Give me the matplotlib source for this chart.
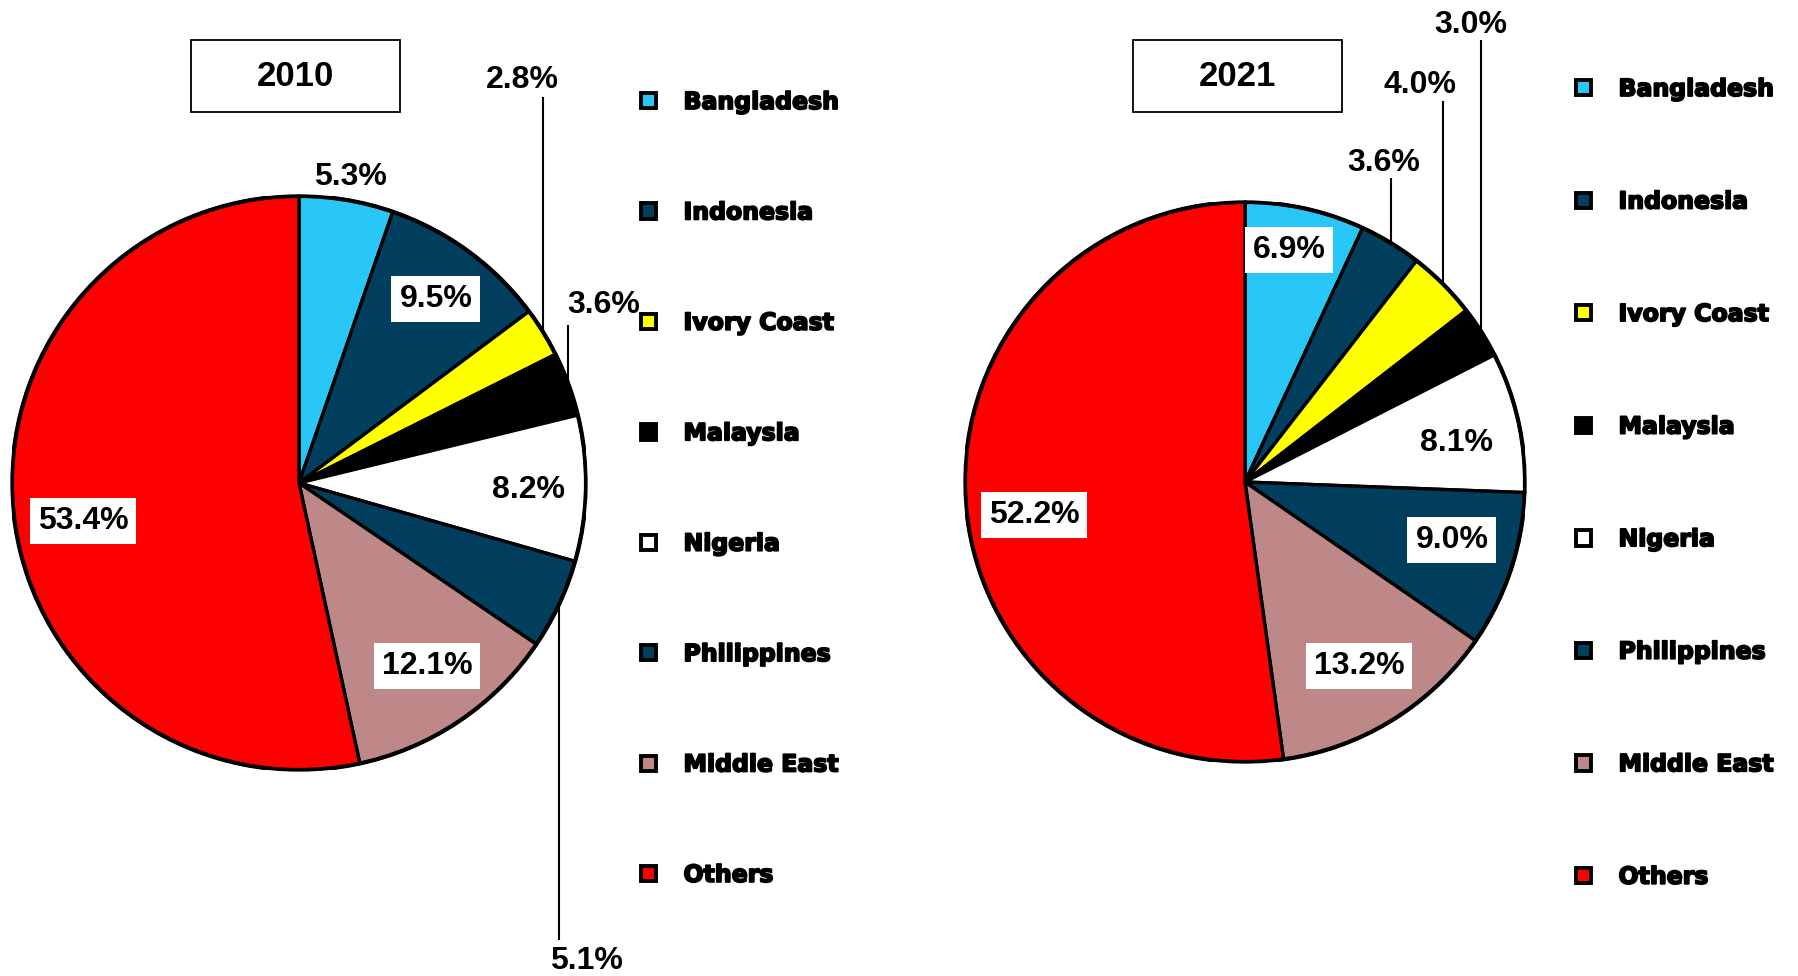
import matplotlib
matplotlib.use('Agg')
import matplotlib.pyplot as plt
from matplotlib.patches import Patch, Rectangle
import matplotlib.patheffects as pe
import numpy as np

categories = ['Bangladesh', 'Indonesia', 'Ivory Coast', 'Malaysia',
              'Nigeria', 'Philippines', 'Middle East', 'Others']
share_2010 = [5.3, 9.5, 2.8, 3.6, 8.2, 5.1, 12.1, 53.4]
share_2021 = [6.9, 3.6, 4.0, 3.0, 8.1, 9.0, 13.2, 52.2]
years = ['2010', '2021']
colors = ['#29C7F8', '#023F5F', '#FFFF00', '#000000',
          '#FFFFFF', '#023F5F', '#BF8888', '#FF0000']

W, H = 1798, 976
fig = plt.figure(figsize=(W / 100, H / 100), dpi=100)

LABEL_FONT = dict(family='Liberation Sans', weight='bold', fontsize=23)
TITLE_FONT = dict(family='Liberation Sans', weight='bold', fontsize=25)

# label layout per slice: (style, x, y, leader_end_y) in pie-radius units
layout_2010 = [
    ('plain', 0.181, 1.065, None),
    ('box', 0.477, 0.641, None),
    ('leader', 0.780, 1.405, 1.345),
    ('leader', 1.063, 0.620, 0.551),
    ('plain', 0.801, -0.024, None),
    ('leader', 1.003, -1.666, -1.592),
    ('box', 0.446, -0.638, None),
    ('box', -0.753, -0.132, None),
]
layout_2021 = [
    ('box', 0.157, 0.829, None),
    ('leader', 0.496, 1.140, 1.086),
    ('leader', 0.625, 1.418, 1.361),
    ('leader', 0.807, 1.632, 1.579),
    ('plain', 0.757, 0.139, None),
    ('box', 0.739, -0.207, None),
    ('box', 0.407, -0.657, None),
    ('box', -0.754, -0.118, None),
]

pies = [
    dict(values=share_2010, layout=layout_2010, cx=299, cy=483, r=287,
         box=(191, 40, 209, 72), legend=(641, 90, 3.66)),
    dict(values=share_2021, layout=layout_2021, cx=1245, cy=482, r=280,
         box=(1133, 40, 209, 72), legend=(1576, 77, 3.75)),
]

for year, p in zip(years, pies):
    cx, cy, r = p['cx'], p['cy'], p['r']
    ax = fig.add_axes([(cx - r) / W, 1 - (cy + r) / H, 2 * r / W, 2 * r / H])
    wedges, _ = ax.pie(p['values'], colors=colors, startangle=90,
                       counterclock=False, radius=1.0,
                       wedgeprops=dict(edgecolor='black', linewidth=2.4))
    ax.set_xlim(-1, 1)
    ax.set_ylim(-1, 1)
    ax.set_aspect('equal')
    ax.axis('off')
    # slightly heavier outer rim
    ax.add_patch(plt.Circle((0, 0), 1.0, fill=False, edgecolor='black',
                            linewidth=3.0, zorder=5))

    for w, v, (style, tx, ty, ly) in zip(wedges, p['values'], p['layout']):
        label = f'{v:.1f}%'
        if style == 'leader':
            ang = np.deg2rad((w.theta1 + w.theta2) / 2)
            ex, ey = np.cos(ang), np.sin(ang)
            ax.plot([ex, ex], [ey, ly], color='black', lw=1.5,
                    clip_on=False, solid_capstyle='butt')
            ax.text(tx, ty, label, ha='center', va='center',
                    clip_on=False, **LABEL_FONT)
        elif style == 'box':
            ax.text(tx, ty, label, ha='center', va='center', clip_on=False,
                    bbox=dict(boxstyle='square,pad=0.25', fc='white', ec='none'),
                    zorder=6, **LABEL_FONT)
        else:
            ax.text(tx, ty, label, ha='center', va='center',
                    clip_on=False, zorder=6, **LABEL_FONT)

    # year title box
    bx, by, bw, bh = p['box']
    fig.add_artist(Rectangle((bx / W, 1 - (by + bh) / H), bw / W, bh / H,
                             transform=fig.transFigure, facecolor='white',
                             edgecolor='black', linewidth=1.3))
    fig.text((bx + bw / 2) / W, 1 - (by + bh / 2) / H, year,
             ha='center', va='center', **TITLE_FONT)

    # legend
    lx, ly, spacing = p['legend']
    handles = [Patch(facecolor=c, edgecolor='black', linewidth=2.8) for c in colors]
    leg = fig.legend(handles, categories, loc='upper left',
                     bbox_to_anchor=(lx / W, 1 - ly / H), frameon=False,
                     prop=dict(family='DejaVu Sans', weight='bold', size=17),
                     handlelength=0.62, handleheight=0.62, handletextpad=1.18,
                     labelspacing=spacing, borderpad=0, borderaxespad=0)
    for t in leg.get_texts():
        t.set_path_effects([pe.withStroke(linewidth=1.3, foreground='black')])

fig.savefig('out.png', dpi=100, facecolor='white')
